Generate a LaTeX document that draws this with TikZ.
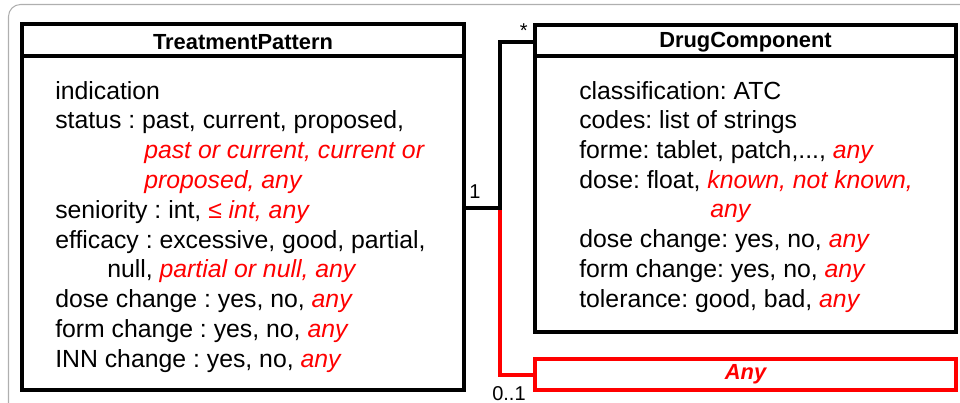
\documentclass[tikz,border=0pt]{standalone}
\usepackage{fontspec}
\setmainfont{Liberation Sans}
\frenchspacing
\definecolor{framegray}{RGB}{175,175,175}
\definecolor{hotred}{RGB}{255,0,0}
\begin{document}
\begin{tikzpicture}[x=0.75pt,y=-0.75pt,
  umlbox/.style={draw=black,line width=3pt,outer sep=0pt,inner sep=0pt,anchor=north west},
  anybox/.style={draw=hotred,line width=3pt,outer sep=0pt,inner sep=0pt,anchor=north west},
  attr/.style={anchor=base west,inner sep=0pt,font=\fontsize{18.6}{22}\selectfont},
  title/.style={inner sep=0pt,font=\fontsize{16.4}{20}\selectfont\bfseries},
  mult/.style={inner sep=0pt,anchor=base west,font=\fontsize{15}{18}\selectfont},
  link/.style={line width=3pt}]
\useasboundingbox (0,0) rectangle (960,403);
% outer panel frame
\draw[framegray,line width=0.8pt,rounded corners=9pt] (8.5,4.5) rectangle (1010,460);

% class boxes
\node[umlbox,minimum width=442.5*0.75pt,minimum height=365.5*0.75pt] (tp) at (21.5,24.5) {};
\node[umlbox,minimum width=421*0.75pt,minimum height=307*0.75pt] (dc) at (535,25) {};
\node[anybox,minimum width=421*0.75pt,minimum height=31*0.75pt] (any) at (535,359) {};
\draw[line width=3pt] (tp.west |- 0,56) -- (tp.east |- 0,56);
\draw[line width=3pt] (dc.west |- 0,56) -- (dc.east |- 0,56);

% titles
\node[title] (tpname) at (243,42) {TreatmentPattern};
\node[title] (dcname) at (745.5,42) {DrugComponent};
\node[title,text=hotred,font=\fontsize{16.4}{20}\selectfont\bfseries\itshape] (anyname) at (any.center) {Any};

% TreatmentPattern attributes
\node[attr] (a1) at (55,99) {indication};
\node[attr] (a2) at (55,128.5) {status : past, current, proposed,};
\node[attr,text=hotred] (a3) at (144,158) {\itshape past or current, current or};
\node[attr,text=hotred] (a4) at (144,188) {\itshape proposed, any};
\node[attr] (a5) at (55,218) {seniority : int, \textcolor{hotred}{\itshape ≤ int, any}};
\node[attr] (a6) at (55,248) {efficacy : excessive, good, partial,};
\node[attr] (a7) at (107,277.5) {null, \textcolor{hotred}{\itshape partial or null, any}};
\node[attr] (a8) at (55,307) {dose change : yes, no, \textcolor{hotred}{\itshape any}};
\node[attr] (a9) at (55,337) {form change : yes, no, \textcolor{hotred}{\itshape any}};
\node[attr] (a10) at (55,367) {INN change : yes, no, \textcolor{hotred}{\itshape any}};

% DrugComponent attributes
\node[attr] (b1) at (579,99) {classification: ATC};
\node[attr] (b2) at (579,128.5) {codes: list of strings};
\node[attr] (b3) at (579,158) {forme: tablet, patch,..., \textcolor{hotred}{\itshape any}};
\node[attr] (b4) at (579,188) {dose: float, \textcolor{hotred}{\itshape known, not known,}};
\node[attr,text=hotred] (b5) at (710,217.5) {\itshape any};
\node[attr] (b6) at (579,247) {dose change: yes, no, \textcolor{hotred}{\itshape any}};
\node[attr] (b7) at (579,277) {form change: yes, no, \textcolor{hotred}{\itshape any}};
\node[attr] (b8) at (579,307) {tolerance: good, bad, \textcolor{hotred}{\itshape any}};

% association connectors
\coordinate (j) at (500,207.5);
\coordinate (k) at (500,42);
\draw[link,hotred] (j) |- (any.west);
\draw[link] (tp.east |- j) -- (j) -- (k) -- (k -| dc.west);

% multiplicities
\node[mult] (m1) at (469,198) {1};
\node[mult] (m2) at (519.5,38) {*};
\node[mult] (m3) at (492,400) {0..1};
\end{tikzpicture}
\end{document}
